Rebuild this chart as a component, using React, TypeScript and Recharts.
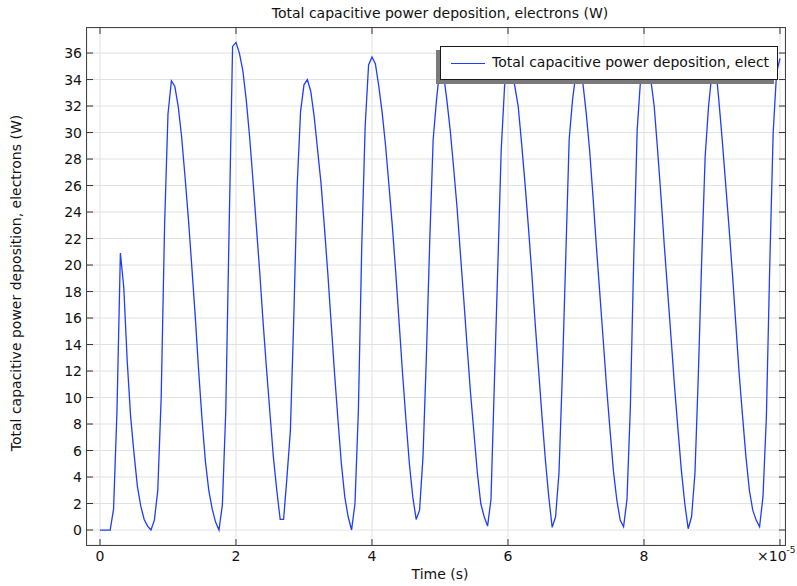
import { LineChart, Line, XAxis, YAxis, CartesianGrid, Legend } from 'recharts';

// time axis is in units of 1e-5 s, sampled every 0.05
const timeStep = 0.05;

// Total capacitive power deposition (W), one row per 1e-5 s
const powerValues = [
  0, 0, 0, 0, 1.6, 9, 20.9, 18.3, 12.8, 8.6, 5.8, 3.3, 1.8, 0.8, 0.3, 0, 0.75, 3.0, 10, 23,
  31.4, 33.9, 33.5, 32.0, 29.7, 26.7, 23.5, 19.9, 16.2, 12.1, 8.4, 5.2, 3.0, 1.6, 0.6, 0, 1.9, 9, 23, 36.5,
  36.8, 36.0, 34.7, 32.5, 29.7, 26.4, 22.9, 19.4, 15.6, 12.1, 8.8, 5.5, 3.0, 0.8, 0.8, 4.0, 7.5, 16, 26, 31.6,
  33.6, 34.0, 33.1, 31.2, 28.7, 26.2, 22.9, 19.4, 15.6, 11.8, 8.3, 5.0, 2.5, 1.0, 0, 2.0, 9, 21.5, 30.5, 35.1,
  35.7, 35.2, 33.5, 31.5, 29, 26, 22.9, 19.4, 15.6, 11.8, 8.3, 5.0, 2.5, 0.8, 1.5, 5.5, 13.1, 21.9, 29.5, 32.5,
  35.0, 34.5, 32.5, 30.2, 27.4, 24.4, 20.9, 17.4, 13.8, 10.3, 7.3, 4.3, 2.0, 1.0, 0.3, 2.3, 11.1, 19.8, 28.6, 33.5,
  35.5, 35.0, 33.5, 32.0, 29.2, 26.2, 22.9, 19.4, 15.6, 12.1, 8.6, 5.3, 2.5, 0.2, 1.0, 4.3, 11.8, 20.6, 29.5, 32.5,
  34.5, 35.0, 33.8, 31.5, 28.7, 25.2, 21.4, 17.9, 14.4, 10.8, 7.6, 4.5, 2.3, 0.75, 0.25, 2.3, 9.3, 20.6, 30.2, 34.0,
  35.3, 35.2, 34.0, 32.0, 28.7, 25.2, 21.4, 17.9, 14.4, 10.8, 7.6, 4.5, 2.0, 0.1, 1.0, 4.3, 11.8, 20.6, 28.2, 32.0,
  34.5, 35.2, 32.5, 29.5, 26.2, 22.9, 19.4, 15.6, 11.8, 8.6, 5.5, 3.0, 1.5, 0.75, 0.25, 2.5, 8.5, 20, 30, 34.5,
  35.6,
];

const xTicks = [0, 2, 4, 6, 8, 10];
const yTicks = [0, 2, 4, 6, 8, 10, 12, 14, 16, 18, 20, 22, 24, 26, 28, 30, 32, 34, 36];

const seriesName = 'Total capacitive power deposition, electrons (W)';
const chartTitle = 'Total capacitive power deposition, electrons (W)';
const xLabel = 'Time (s)';
const yLabel = 'Total capacitive power deposition, electrons (W)';

const chartData = powerValues.map((p, i) => ({ time: +(i * timeStep).toFixed(2), power: p }));

const FONT = '"DejaVu Sans", Verdana, sans-serif';
const FONT_SIZE = 14;
const LINE_COLOR = '#1f3dff';
const PLOT = { left: 87, right: 785, top: 28, bottom: 545 };

const XTick = (props: any) => {
  const { x, payload } = props;
  return (
    <g>
      <line x1={x} x2={x} y1={PLOT.bottom} y2={PLOT.bottom - 6} stroke="#333" />
      <line x1={x} x2={x} y1={PLOT.top} y2={PLOT.top + 6} stroke="#333" />
      {payload.value === 10 ? (
        <text x={757} y={556} fill="#111" fontSize={FONT_SIZE} fontFamily={FONT} dominantBaseline="central">
          ×10
          <tspan dy={-6} fontSize={9}>-5</tspan>
        </text>
      ) : (
        <text x={x} y={556} fill="#111" fontSize={FONT_SIZE} fontFamily={FONT} textAnchor="middle" dominantBaseline="central">
          {payload.value}
        </text>
      )}
    </g>
  );
};

const YTick = (props: any) => {
  const { y, payload } = props;
  return (
    <g>
      <line x1={PLOT.left} x2={PLOT.left + 6} y1={y} y2={y} stroke="#333" />
      <line x1={PLOT.right} x2={PLOT.right - 6} y1={y} y2={y} stroke="#333" />
      <text x={82} y={y} fill="#111" fontSize={FONT_SIZE} fontFamily={FONT} textAnchor="end" dominantBaseline="central">
        {payload.value}
      </text>
    </g>
  );
};

const renderLegend = () => (
  <div
    style={{
      position: 'relative',
      width: 338,
      height: 34,
      boxSizing: 'border-box',
      border: '1px solid #1a1a1a',
      background: '#fff',
      boxShadow: '-4px 4px 0 #7a7a7a',
      fontFamily: FONT,
      fontSize: FONT_SIZE,
      color: '#111',
    }}
  >
    <div style={{ position: 'absolute', left: 10, top: 16, width: 34, borderTop: `1.5px solid ${LINE_COLOR}` }} />
    <div style={{ position: 'absolute', left: 51, top: 7, width: 277, overflow: 'hidden', whiteSpace: 'nowrap' }}>
      {seriesName}
    </div>
  </div>
);

export default function App() {
  return (
    <div style={{ position: 'absolute', left: 0, top: 0, width: 797, height: 586, background: '#fff', fontFamily: FONT }}>
      <div
        style={{
          position: 'absolute',
          left: 0,
          top: 5,
          width: 880,
          textAlign: 'center',
          fontSize: FONT_SIZE,
          color: '#111',
        }}
      >
        {chartTitle}
      </div>
      <LineChart width={797} height={586} data={chartData} margin={{ top: 28, right: 12, bottom: 0, left: 0 }}>
        <CartesianGrid stroke="#e2e2e2" strokeWidth={1} />
        <XAxis
          dataKey="time"
          type="number"
          domain={[-0.191, 10.074]}
          ticks={xTicks}
          height={41}
          axisLine={false}
          tickLine={false}
          tick={<XTick />}
          allowDataOverflow
          label={{
            content: () => (
              <text x={440} y={574} fill="#111" fontSize={FONT_SIZE} fontFamily={FONT} textAnchor="middle" dominantBaseline="central">
                {xLabel}
              </text>
            ),
          }}
        />
        <YAxis
          type="number"
          domain={[-1.13, 37.89]}
          ticks={yTicks}
          width={87}
          axisLine={false}
          tickLine={false}
          tick={<YTick />}
          allowDataOverflow
          label={{
            content: () => (
              <text
                x={16}
                y={283}
                fill="#111"
                fontSize={FONT_SIZE}
                fontFamily={FONT}
                textAnchor="middle"
                dominantBaseline="central"
                transform="rotate(-90, 16, 283)"
              >
                {yLabel}
              </text>
            ),
          }}
        />
        <Line
          type="linear"
          dataKey="power"
          name={seriesName}
          stroke={LINE_COLOR}
          strokeWidth={1.3}
          dot={false}
          activeDot={false}
          isAnimationActive={false}
        />
        <Legend
          layout="horizontal"
          verticalAlign="middle"
          align="center"
          wrapperStyle={{ left: 440, top: 46, width: 338, height: 34 }}
          content={renderLegend}
        />
      </LineChart>
      <div
        style={{
          position: 'absolute',
          left: 86,
          top: 27,
          width: 700,
          height: 519,
          boxSizing: 'border-box',
          border: '1px solid #444',
          pointerEvents: 'none',
        }}
      />
    </div>
  );
}
